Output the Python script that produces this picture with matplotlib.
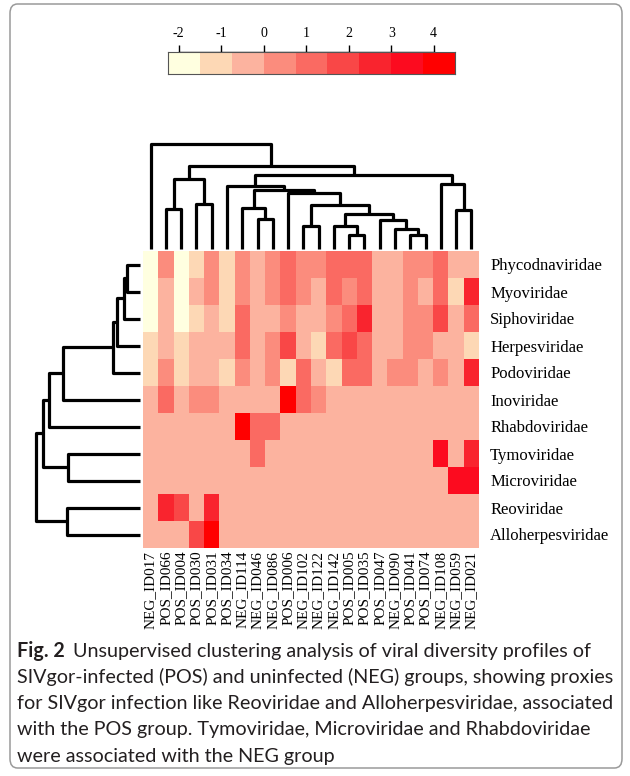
import matplotlib
matplotlib.use("Agg")
import matplotlib.pyplot as plt
import numpy as np
from matplotlib.colors import ListedColormap, BoundaryNorm
from matplotlib.patches import FancyBboxPatch

# ---------------- data ----------------
families = ["Phycodnaviridae", "Myoviridae", "Siphoviridae", "Herpesviridae",
            "Podoviridae", "Inoviridae", "Rhabdoviridae", "Tymoviridae",
            "Microviridae", "Reoviridae", "Alloherpesviridae"]

samples = ["NEG_ID017", "POS_ID066", "POS_ID004", "POS_ID030", "POS_ID031",
           "POS_ID034", "NEG_ID114", "NEG_ID046", "NEG_ID086", "POS_ID006",
           "NEG_ID102", "NEG_ID122", "NEG_ID142", "POS_ID005", "POS_ID035",
           "POS_ID047", "NEG_ID090", "POS_ID041", "POS_ID074", "NEG_ID108",
           "NEG_ID059", "NEG_ID021"]

phycodnaviridae = [-1.9, 0.4, -1.9, -1.1, 0.4, -1.1, 0.4, -0.4, 0.4, 1.1, 0.4,
                   0.4, 1.1, 1.1, 1.1, -0.4, -0.4, 0.4, 0.4, 1.1, -0.4, -0.4]
myoviridae = [-1.9, -0.4, -1.9, -0.4, 0.4, -1.1, 0.4, -0.4, 0.4, 1.1, 0.4,
              -0.4, 1.1, 0.4, 1.1, -0.4, -0.4, 0.4, -0.4, 1.1, -1.1, 2.6]
siphoviridae = [-1.9, -0.4, -1.9, -1.1, -0.4, -1.1, 1.1, -0.4, -0.4, 0.4, -0.4,
                -0.4, 0.4, 1.1, 2.6, -0.4, -0.4, 0.4, 0.4, 1.9, -0.4, 1.1]
herpesviridae = [-1.1, -0.4, -1.1, -0.4, -0.4, -0.4, 1.1, -0.4, 0.4, 1.9, -0.4,
                 -1.1, 1.1, 1.9, 1.1, -0.4, -0.4, 0.4, 0.4, -0.4, -0.4, -1.1]
podoviridae = [-1.1, 0.4, -1.1, -0.4, -0.4, -1.1, 0.4, -0.4, 0.4, -1.1, 1.1,
               -0.4, -1.1, 1.1, 1.1, -0.4, 0.4, 0.4, -0.4, 0.4, -0.4, 2.6]
inoviridae = [-0.4, 1.1, -0.4, 0.4, 0.4, -0.4, -0.4, -0.4, -0.4, 4.1, 1.1,
              0.4, -0.4, -0.4, -0.4, -0.4, -0.4, -0.4, -0.4, -0.4, -0.4, -0.4]
rhabdoviridae = [-0.4, -0.4, -0.4, -0.4, -0.4, -0.4, 4.1, 1.1, 1.1, -0.4, -0.4,
                 -0.4, -0.4, -0.4, -0.4, -0.4, -0.4, -0.4, -0.4, -0.4, -0.4, -0.4]
tymoviridae = [-0.4, -0.4, -0.4, -0.4, -0.4, -0.4, -0.4, 1.1, -0.4, -0.4, -0.4,
               -0.4, -0.4, -0.4, -0.4, -0.4, -0.4, -0.4, -0.4, 3.4, -0.4, 2.6]
microviridae = [-0.4, -0.4, -0.4, -0.4, -0.4, -0.4, -0.4, -0.4, -0.4, -0.4, -0.4,
                -0.4, -0.4, -0.4, -0.4, -0.4, -0.4, -0.4, -0.4, -0.4, 3.4, 3.4]
reoviridae = [-0.4, 2.6, 1.9, -0.4, 2.6, -0.4, -0.4, -0.4, -0.4, -0.4, -0.4,
              -0.4, -0.4, -0.4, -0.4, -0.4, -0.4, -0.4, -0.4, -0.4, -0.4, -0.4]
alloherpesviridae = [-0.4, -0.4, -0.4, 1.9, 4.1, -0.4, -0.4, -0.4, -0.4, -0.4, -0.4,
                     -0.4, -0.4, -0.4, -0.4, -0.4, -0.4, -0.4, -0.4, -0.4, -0.4, -0.4]

# dendrogram merges: (left id, right id, height); leaves are 0..n-1 in display order
col_merges = [(1, 2, 120), (3, 4, 135), (22, 23, 210), (7, 8, 90), (6, 25, 123),
              (10, 11, 70), (13, 14, 43), (12, 28, 70), (17, 18, 43), (16, 30, 60),
              (15, 31, 85), (29, 32, 105), (27, 33, 130), (9, 34, 168), (26, 35, 177),
              (5, 36, 187), (20, 21, 115), (19, 38, 195), (37, 39, 222), (24, 40, 247),
              (0, 41, 313)]
row_merges = [(0, 1, 40), (11, 2, 48), (12, 3, 70), (13, 4, 82), (14, 5, 230),
              (15, 6, 272), (7, 8, 215), (16, 17, 292), (9, 10, 220), (18, 19, 312)]

scale_breaks = [-2.25, -1.5, -0.75, 0.0, 0.75, 1.5, 2.25, 3.0, 3.75, 4.5]
scale_colors = ["#FFFFE0", "#FDD8B5", "#FCB39F", "#FB8C7D", "#FA6A62",
                "#F94747", "#F9242E", "#FC0B1F", "#FF0000"]
scale_ticks = [-2, -1, 0, 1, 2, 3, 4]

caption_bold = "Fig. 2"
caption_lines = [
    "Unsupervised clustering analysis of viral diversity profiles of",
    "SIVgor-infected (POS) and uninfected (NEG) groups, showing proxies",
    "for SIVgor infection like Reoviridae and Alloherpesviridae, associated",
    "with the POS group. Tymoviridae, Microviridae and Rhabdoviridae",
    "were associated with the NEG group",
]

# ---------------- figure ----------------
W, H = 630, 776
fig = plt.figure(figsize=(W / 100, H / 100), dpi=100)
SERIF = ["Liberation Serif", "DejaVu Serif"]
SANS = ["Lato", "DejaVu Sans"]


def rect(x0, y0, x1, y1):
    return [x0 / W, 1 - y1 / H, (x1 - x0) / W, (y1 - y0) / H]


def dendro_segments(merges, n):
    pos = {i: float(i) for i in range(n)}
    hgt = {i: 0.0 for i in range(n)}
    segs = []
    for k, (a, b, h) in enumerate(merges):
        xa, xb = pos[a], pos[b]
        segs.append(([xa, xa, xb, xb], [hgt[a], h, h, hgt[b]]))
        pos[n + k] = (xa + xb) / 2
        hgt[n + k] = h
    return segs


cmap = ListedColormap(scale_colors)
norm = BoundaryNorm(scale_breaks, cmap.N)

matrix = np.array([phycodnaviridae, myoviridae, siphoviridae, herpesviridae,
                   podoviridae, inoviridae, rhabdoviridae, tymoviridae,
                   microviridae, reoviridae, alloherpesviridae])
nr, nc = matrix.shape

# heatmap
ax = fig.add_axes(rect(143, 251, 479, 548))
ax.imshow(matrix, cmap=cmap, norm=norm, aspect="auto", interpolation="nearest")
ax.set_xticks(range(nc))
ax.set_xticklabels(samples, rotation=90, fontsize=11, family=SERIF)
ax.set_yticks(range(nr))
ax.set_yticklabels(families, fontsize=12, family=SERIF)
ax.yaxis.tick_right()
ax.tick_params(axis="x", length=0, pad=2)
ax.tick_params(axis="y", length=0, pad=8)
for s in ax.spines.values():
    s.set_visible(False)

# column dendrogram
axc = fig.add_axes(rect(143, 144, 479, 249))
for xs, ys in dendro_segments(col_merges, nc):
    axc.plot(xs, ys, color="black", lw=2.3, solid_capstyle="butt", clip_on=False)
axc.set_xlim(-0.5, nc - 0.5)
axc.set_ylim(0, 313)
axc.axis("off")

# row dendrogram
axr = fig.add_axes(rect(36, 251, 140, 548))
for ys, xs in dendro_segments(row_merges, nr):
    axr.plot(xs, ys, color="black", lw=2.3, solid_capstyle="butt", clip_on=False)
axr.set_ylim(nr - 0.5, -0.5)
axr.set_xlim(312, 0)
axr.axis("off")

# colour key
axk = fig.add_axes(rect(168, 52, 455, 74))
mids = [(a + b) / 2 for a, b in zip(scale_breaks[:-1], scale_breaks[1:])]
axk.pcolormesh(scale_breaks, [0, 1], [mids], cmap=cmap, norm=norm)
axk.set_xlim(scale_breaks[0], scale_breaks[-1])
axk.set_ylim(0, 1)
axk.set_xticks([])
axk.set_yticks([])
for s in axk.spines.values():
    s.set_color("#555555")
    s.set_linewidth(0.8)
sec = axk.secondary_xaxis("top")
sec.set_xticks(scale_ticks)
sec.set_xticklabels([str(t) for t in scale_ticks], fontsize=10, family=SERIF)
sec.tick_params(length=5, width=1, pad=3.5, color="black")
sec.spines["top"].set_bounds(scale_ticks[0], scale_ticks[-1])
sec.spines["top"].set_linewidth(1)

# border
fig.patches.append(FancyBboxPatch((10 / W, 1 - 768 / H), 612 / W, 764 / H,
                                  boxstyle="round,pad=0,rounding_size=0.012",
                                  transform=fig.transFigure, fill=False,
                                  edgecolor="#9a9a9a", lw=1.1))

# caption
fs = 13.0
renderer = fig.canvas.get_renderer()
probe = fig.text(0, 0, caption_lines[1], fontsize=fs, family=SANS)
wpx = probe.get_window_extent(renderer).width
probe.remove()
fs = fs * 596 / wpx
y0 = 651
dy = 26.3
tb = fig.text(17 / W, 1 - y0 / H, caption_bold, fontsize=fs, family=SANS,
              fontweight="bold", va="center", color="#231f20")
bw = tb.get_window_extent(renderer).x1
fig.text((bw + 8) / W, 1 - y0 / H, caption_lines[0], fontsize=fs, family=SANS,
         va="center", color="#231f20")
for i, line in enumerate(caption_lines[1:], start=1):
    fig.text(17 / W, 1 - (y0 + i * dy) / H, line, fontsize=fs, family=SANS,
             va="center", color="#231f20")

fig.savefig("out.png", dpi=100)
